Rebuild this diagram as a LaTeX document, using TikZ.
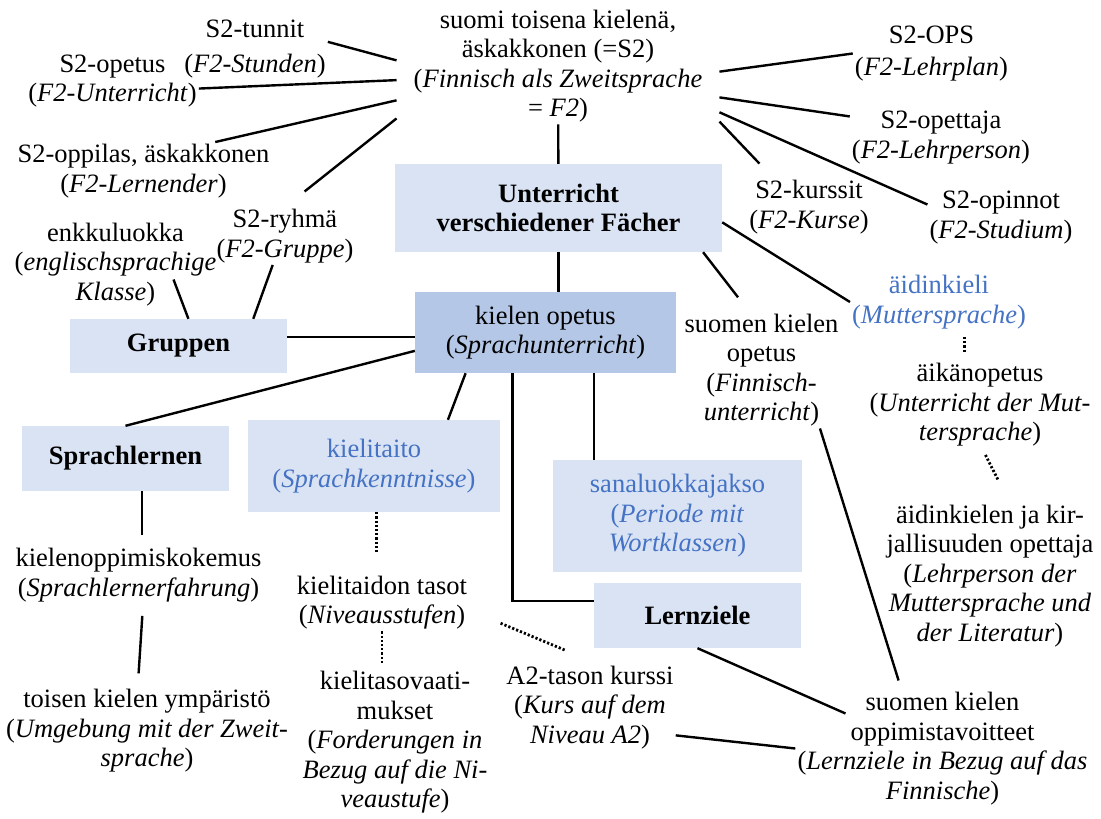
\documentclass[tikz,border=0pt]{standalone}
\usepackage{fontspec}
\setmainfont{Liberation Serif}
\definecolor{boxfill}{RGB}{218,227,243}
\definecolor{boxdark}{RGB}{180,199,231}
\definecolor{termblue}{RGB}{68,114,196}

\begin{document}
\begin{tikzpicture}[x=1pt, y=-1pt,
		every node/.style={font=\fontsize{26.5}{29.5}\selectfont},
		term/.style={align=center, inner sep=2pt},
		box/.style={rectangle, fill=boxfill, align=center, inner sep=0pt},
		head/.style={box, font=\fontsize{26.5}{29.5}\selectfont\bfseries},
		link/.style={line width=2.4pt},
		dots/.style={line width=2.8pt, dash pattern=on 2.2pt off 2pt}]
		\useasboundingbox (0,0) rectangle (1101,819);
		\node[head, minimum width=327pt, minimum height=88pt] (fach) at (558.5,208) {Unterricht\\verschiedener Fächer};
		\node[box, fill=boxdark, minimum width=261pt, minimum height=81pt] (kopetus) at (545.5,332.5) {kielen opetus\\(\textit{Sprachunterricht})};
		\node[head, minimum width=217pt, minimum height=54pt] (gruppen) at (178.5,346) {Gruppen};
		\node[head, minimum width=207pt, minimum height=65pt] (lernen) at (125.5,458.5) {Sprachlernen};
		\node[box, text=termblue, minimum width=252pt, minimum height=92pt] (taito) at (374,466) {kielitaito\\(\textit{Sprachkenntnisse})};
		\node[box, text=termblue, minimum width=249pt, minimum height=112pt] (jakso) at (677.5,516) {sanaluokkajakso\\(\textit{Periode mit}\\\textit{Wortklassen})};
		\node[head, minimum width=207pt, minimum height=65pt] (ziele) at (697.5,615.5) {Lernziele};

		\node[term, inner xsep=17pt] (main) at (558,66) {suomi toisena kielenä,\\äskakkonen (=S2)\\(\textit{Finnisch als Zweitsprache}\\= \textit{F2})};
		\node[term] (tunnit) at (255,49.5) {S2-tunnit\\[5.5pt](\textit{F2-Stunden})};
		\node[term] (sopetus) at (112.5,81) {S2-opetus\\(\textit{F2-Unterricht})};
		\node[term] (oppilas) at (143.5,171) {S2-oppilas, äskakkonen\\(\textit{F2-Lernender})};
		\node[term] (enkku) at (115.5,264.5) {enkkuluokka\\(\textit{englischsprachige}\\\textit{Klasse})};
		\node[term] (ryhma) at (285,236) {S2-ryhmä\\(\textit{F2-Gruppe})};
		\node[term] (ops) at (931.5,53.5) {S2-OPS\\[3pt](\textit{F2-Lehrplan})};
		\node[term] (opettaja) at (941,137.5) {S2-opettaja\\(\textit{F2-Lehrperson})};
		\node[term] (kurssit) at (809,207) {S2-kurssit\\(\textit{F2-Kurse})};
		\node[term] (opinnot) at (1001,217.5) {S2-opinnot\\(\textit{F2-Studium})};
		\node[term, text=termblue] (aidinkieli) at (939,302) {äidinkieli\\(\textit{Muttersprache})};
		\node[term] (suomenop) at (761.5,370) {suomen kielen\\opetus\\(\textit{Finnisch-}\\\textit{unterricht})};
		\node[term] (aikan) at (980,405) {äikänopetus\\(\textit{Unterricht der Mut-}\\\textit{tersprache})};
		\node[term] (aidop) at (990,576) {äidinkielen ja kir-\\jallisuuden opettaja\\(\textit{Lehrperson der}\\\textit{Muttersprache und}\\\textit{der Literatur})};
		\node[term] (kokemus) at (138.5,575) {kielenoppimiskokemus\\(\textit{Sprachlernerfahrung})};
		\node[term] (ymparisto) at (147,731) {toisen kielen ympäristö\\(\textit{Umgebung mit der Zweit-}\\\textit{sprache})};
		\node[term] (tasot) at (382,602.5) {kielitaidon tasot\\(\textit{Niveausstufen})};
		\node[term] (vaat) at (395,742.5) {kielitasovaati-\\mukset\\(\textit{Forderungen in}\\\textit{Bezug auf die Ni-}\\\textit{veaustufe})};
		\node[term] (a2) at (590,707.5) {A2-tason kurssi\\(\textit{Kurs auf dem}\\\textit{Niveau A2})};
		\node[term] (tavoitteet) at (942.5,748.5) {suomen kielen\\oppimistavoitteet\\(\textit{Lernziele in Bezug auf das}\\\textit{Finnische})};

		\draw[link] (tunnit.6) -- (main.178);
		\draw[link] (sopetus.-5) -- (main.185);
		\draw[link] (oppilas.22) -- (main.192);
		\draw[link, shorten <=25pt] (ryhma.north) -- (main.198);
		\draw[link] (main) -- (fach);
		\draw[link] (main.-2) -- (ops.west);
		\draw[link] (main.-11) -- (opettaja.167);
		\draw[link] (main.-16) -- (opinnot.170);
		\draw[link, shorten >=20pt] (main.-19) -- (kurssit.141);
		\draw[link] (fach.-5) -- (aidinkieli.west);
		\draw[link, shorten >=18pt] (fach.-17) -- (suomenop.102);
		\draw[link] (fach.south) -- (fach.south |- kopetus.north);
		\draw[link] ([shift={(58,15)}]enkku.center) -- (gruppen.70);
		\draw[link] (ryhma.247) -- (gruppen.20);
		\draw[link] (gruppen.east |- kopetus.182) -- (kopetus.182);
		\draw[link] (kopetus.188) -- (lernen.north);
		\draw[link] (kopetus.207) -- (taito.32);
		\draw[link] (kopetus.231) |- (ziele.172);
		\draw[link] (kopetus.-40) -- (kopetus.-40 |- jakso.north);
		\draw[link, shorten >=11pt] (lernen.-63) -- (lernen.-63 |- kokemus.north);
		\draw[link, shorten <=12pt, shorten >=14pt] (kokemus.-81) -- (ymparisto.102);
		\draw[link, shorten >=10pt] (suomenop.-45) -- (tavoitteet.125);
		\draw[link] (ziele.south) -- ([shift={(-97,-35)}]tavoitteet.center);
		\draw[link] (a2.-18) -- (tavoitteet.west);
		\draw[dots, shorten >=20pt] (taito.-87) -- (taito.-87 |- tasot.north);
		\draw[dots, shorten >=6pt] (tasot.south) -- (tasot.south |- vaat.north);
		\draw[dots, shorten <=34pt, shorten >=34pt] (tasot.-5) -- (a2.80);
		\draw[dots, shorten <=6pt, shorten >=8pt] (aidinkieli.-49) -- (aidinkieli.-49 |- aikan.north);
		\draw[dots, shorten <=7pt, shorten >=25pt] (aikan.-87) -- (aidop.75);
	\end{tikzpicture}
\end{document}
